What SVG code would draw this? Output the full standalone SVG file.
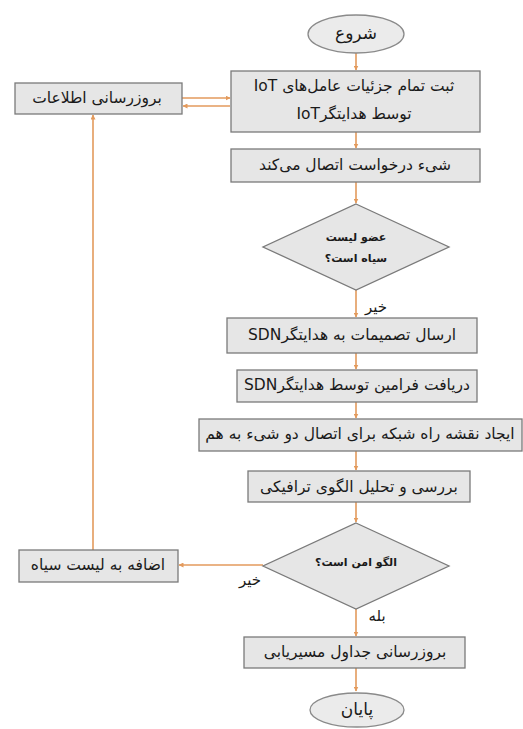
<svg xmlns="http://www.w3.org/2000/svg" width="523" height="729" viewBox="0 0 523 729">
  <style>
    .box { fill: #e6e6e6; stroke: #7a7a7a; stroke-width: 1.3; }
    .term { fill: #ebebeb; stroke: #8a8a8a; stroke-width: 1.3; }
    .link { fill: none; stroke: #e39a5c; stroke-width: 1.6; }
    text { font-family: "DejaVu Sans", "Noto Sans", sans-serif; fill: #1a1a1a; direction: rtl; text-anchor: middle; dominant-baseline: central; }
    .t { font-size: 15.5px; }
    .big { font-size: 17px; }
    .dec { font-size: 11px; font-weight: bold; }
    .lab { font-size: 15px; }
  </style>
  <defs>
    <marker id="ah" viewBox="0 0 10 10" refX="9" refY="5" markerWidth="5" markerHeight="5" orient="auto" markerUnits="userSpaceOnUse">
      <path d="M0,0 L10,5 L0,10 z" fill="#e39a5c"/>
    </marker>
  </defs>
  <rect width="523" height="729" fill="#ffffff"/>

  <!-- connectors -->
  <g id="connectors">
    <line class="link" x1="356" y1="53" x2="356" y2="70" marker-end="url(#ah)"/>
    <line class="link" x1="356" y1="132" x2="356" y2="148" marker-end="url(#ah)"/>
    <line class="link" x1="356" y1="182" x2="356" y2="203" marker-end="url(#ah)"/>
    <line class="link" x1="356" y1="290" x2="356" y2="317" marker-end="url(#ah)"/>
    <line class="link" x1="356" y1="353" x2="356" y2="369" marker-end="url(#ah)"/>
    <line class="link" x1="356" y1="402" x2="356" y2="418" marker-end="url(#ah)"/>
    <line class="link" x1="356" y1="451" x2="356" y2="470" marker-end="url(#ah)"/>
    <line class="link" x1="356" y1="502" x2="356" y2="522" marker-end="url(#ah)"/>
    <line class="link" x1="356" y1="609" x2="356" y2="636" marker-end="url(#ah)"/>
    <line class="link" x1="356" y1="668" x2="356" y2="691" marker-end="url(#ah)"/>
    <!-- update box <-> registration box -->
    <line class="link" x1="182" y1="98" x2="230" y2="98" marker-end="url(#ah)"/>
    <line class="link" x1="230" y1="106" x2="183" y2="106" marker-end="url(#ah)"/>
    <!-- unsafe pattern -> blacklist -> update -->
    <line class="link" x1="263" y1="565" x2="179" y2="565" marker-end="url(#ah)"/>
    <line class="link" x1="93" y1="550" x2="93" y2="115" marker-end="url(#ah)"/>
    <text class="lab" x="250" y="580">خیر</text>
    <text class="lab" x="376" y="307">خیر</text>
    <text class="lab" x="377" y="616">بله</text>
  </g>

  <g id="start">
    <ellipse class="term" cx="356" cy="34" rx="48" ry="19"/>
    <text class="big" x="356" y="33">شروع</text>
  </g>

  <g id="register">
    <rect class="box" x="231" y="71" width="249" height="61"/>
    <text class="t" x="354" y="86">ثبت تمام جزئیات عامل‌های IoT</text>
    <text class="t" x="354" y="114">توسط هدایتگرIoT</text>
  </g>

  <g id="update-info">
    <rect class="box" x="15" y="83" width="167" height="31"/>
    <text class="t" x="97" y="98">بروزرسانی اطلاعات</text>
  </g>

  <g id="request">
    <rect class="box" x="231" y="149" width="249" height="33"/>
    <text class="t" x="355" y="165">شیء درخواست اتصال می‌کند</text>
  </g>

  <g id="blacklisted">
    <polygon class="box" points="356,204 449,247 356,290 263,247"/>
    <text class="dec" x="356" y="237">عضو لیست</text>
    <text class="dec" x="356" y="258">سیاه است؟</text>
  </g>

  <g id="send-decisions">
    <rect class="box" x="227" y="318" width="250" height="35"/>
    <text class="t" x="352" y="335">ارسال تصمیمات به هدایتگرSDN</text>
  </g>

  <g id="receive-commands">
    <rect class="box" x="237" y="370" width="240" height="32"/>
    <text class="t" x="357" y="385">دریافت فرامین توسط هدایتگرSDN</text>
  </g>

  <g id="roadmap">
    <rect class="box" x="199" y="419" width="323" height="32"/>
    <text class="t" x="360" y="434">ایجاد نقشه راه شبکه برای اتصال دو شیء به هم</text>
  </g>

  <g id="analyze">
    <rect class="box" x="248" y="471" width="222" height="31"/>
    <text class="t" x="359" y="487">بررسی و تحلیل الگوی ترافیکی</text>
  </g>

  <g id="safe-pattern">
    <polygon class="box" points="356,523 449,566 356,609 263,566"/>
    <text class="dec" x="356" y="562">الگو امن است؟</text>
  </g>

  <g id="add-blacklist">
    <rect class="box" x="19" y="550" width="159" height="32"/>
    <text class="t" x="98" y="565">اضافه به لیست سیاه</text>
  </g>

  <g id="update-routing">
    <rect class="box" x="244" y="637" width="221" height="31"/>
    <text class="t" x="355" y="652">بروزرسانی جداول مسیریابی</text>
  </g>

  <g id="end">
    <ellipse class="term" cx="357" cy="710" rx="47" ry="17"/>
    <text class="big" x="357" y="709">پایان</text>
  </g>
</svg>
